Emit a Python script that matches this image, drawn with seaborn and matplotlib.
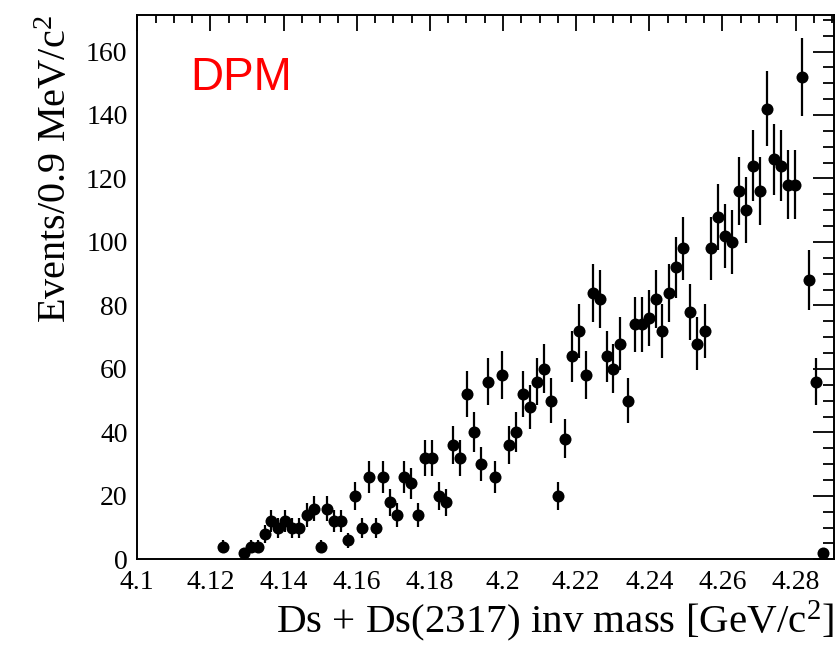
import numpy as np
import pandas as pd
import matplotlib
matplotlib.use("Agg")
import matplotlib.pyplot as plt
from matplotlib.ticker import MultipleLocator, FuncFormatter
import seaborn as sns

# ---- data (bin centres in GeV/c^2, entries per bin) ----
mass = [4.1234, 4.1291, 4.1310, 4.1329, 4.1348, 4.1367, 4.1386, 4.1405, 4.1424, 4.1443,
        4.1463, 4.1482, 4.1501, 4.1520, 4.1539, 4.1558, 4.1577, 4.1596, 4.1615, 4.1634,
        4.1653, 4.1672, 4.1692, 4.1711, 4.1730, 4.1749, 4.1768, 4.1787, 4.1806, 4.1825,
        4.1844, 4.1863, 4.1882, 4.1902, 4.1921, 4.1940, 4.1959, 4.1978, 4.1997, 4.2016,
        4.2035, 4.2054, 4.2073, 4.2092, 4.2111, 4.2131, 4.2150, 4.2169, 4.2188, 4.2207,
        4.2226, 4.2245, 4.2264, 4.2283, 4.2302, 4.2321, 4.2341, 4.2360, 4.2379, 4.2398,
        4.2417, 4.2436, 4.2455, 4.2474, 4.2493, 4.2512, 4.2531, 4.2551, 4.2570, 4.2589,
        4.2608, 4.2627, 4.2646, 4.2665, 4.2684, 4.2703, 4.2722, 4.2741, 4.2760, 4.2780,
        4.2799, 4.2818, 4.2837, 4.2856, 4.2875]
events = [4, 2, 4, 4, 8, 12, 10, 12, 10, 10,
          14, 16, 4, 16, 12, 12, 6, 20, 10, 26,
          10, 26, 18, 14, 26, 24, 14, 32, 32, 20,
          18, 36, 32, 52, 40, 30, 56, 26, 58, 36,
          40, 52, 48, 56, 60, 50, 20, 38, 64, 72,
          58, 84, 82, 64, 60, 68, 50, 74, 74, 76,
          82, 72, 84, 92, 98, 78, 68, 72, 98, 108,
          102, 100, 116, 110, 124, 116, 142, 126, 124, 118,
          118, 152, 88, 56, 2]

x_label = r"Ds + Ds(2317) inv mass [GeV/c$\mathregular{^2}$]"
y_label = r"Events/0.9 MeV/c$\mathregular{^2}$"
tag = "DPM"

df = pd.DataFrame({"mass": mass, "events": events})
df["err"] = np.sqrt(df["events"])

sns.set_style("white")
plt.rcParams["font.family"] = ["Liberation Serif", "DejaVu Serif"]
plt.rcParams["mathtext.fontset"] = "custom"
plt.rcParams["mathtext.rm"] = "Liberation Serif"
plt.rcParams["text.color"] = "black"
plt.rcParams["axes.labelcolor"] = "black"
plt.rcParams["xtick.color"] = "black"
plt.rcParams["ytick.color"] = "black"

fig = plt.figure(figsize=(8.36, 6.5), dpi=100)
ax = fig.add_axes([0.1642, 0.1395, 0.8334, 0.8374])

ax.errorbar(df["mass"], df["events"], yerr=df["err"], fmt="none",
            ecolor="black", elinewidth=1.6, capsize=0, zorder=2)
sns.scatterplot(data=df, x="mass", y="events", ax=ax, color="black",
                s=75, edgecolor="black", linewidth=0, zorder=3, legend=False)

ax.set_xlim(4.1, 4.2905)
ax.set_ylim(0, 171.5)

ax.xaxis.set_major_locator(MultipleLocator(0.02))
ax.xaxis.set_minor_locator(MultipleLocator(0.005))
ax.yaxis.set_major_locator(MultipleLocator(20))
ax.yaxis.set_minor_locator(MultipleLocator(5))
ax.xaxis.set_major_formatter(FuncFormatter(lambda v, p: f"{v:g}"))
ax.yaxis.set_major_formatter(FuncFormatter(lambda v, p: f"{v:g}"))

ax.tick_params(axis="both", which="both", direction="in", top=True, right=True,
               width=1.3, colors="black", labelcolor="black", labelsize=20)
ax.tick_params(axis="x", which="major", length=11.5, pad=8)
ax.tick_params(axis="x", which="minor", length=5.5)
ax.tick_params(axis="y", which="major", length=15, pad=7)
ax.tick_params(axis="y", which="minor", length=8)

for sp in ax.spines.values():
    sp.set_color("black")
    sp.set_linewidth(1.4)

ax.set_xlabel(x_label, fontsize=29.5, loc="right", labelpad=2, color="black")
ax.set_ylabel(y_label, fontsize=29, loc="top", labelpad=8, color="black")

ax.text(0.0756, 0.862, tag, transform=ax.transAxes, color="#ff0000",
        fontsize=33, family=["Liberation Sans", "DejaVu Sans"], va="baseline", ha="left")

fig.savefig("out.png", dpi=100)
